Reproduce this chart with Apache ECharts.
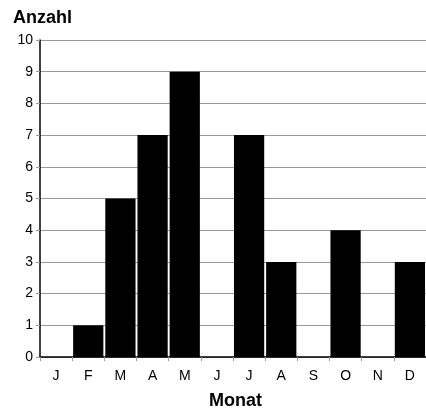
<!DOCTYPE html>
<html>
<head>
<meta charset="utf-8">
<script src="https://cdn.jsdelivr.net/npm/echarts@6/dist/echarts.min.js"></script>
<style>
html, body { margin: 0; padding: 0; background: #fff; }
#chart { width: 426px; height: 409px; }
</style>
</head>
<body>
<div id="chart"></div>
<script>
var months = ['J', 'F', 'M', 'A', 'M', 'J', 'J', 'A', 'S', 'O', 'N', 'D'];
var counts = [0, 1, 5, 7, 9, 0, 7, 3, 0, 4, 0, 3];
var yTicks = [0, 1, 2, 3, 4, 5, 6, 7, 8, 9, 10];

var myChart = echarts.init(document.getElementById('chart'));

var font = 'Liberation Sans, Arial, sans-serif';

var option = {
	animation: false,
	grid: { left: 40, right: -5, top: 40, bottom: 52 },
	title: [{
		text: 'Anzahl',
		left: 8, top: 4,
		textStyle: { fontFamily: font, fontSize: 18, fontWeight: 'bold', color: '#000' }
	}, {
		text: 'Monat',
		left: 204, top: 387,
		textStyle: { fontFamily: font, fontSize: 18, fontWeight: 'bold', color: '#000' }
	}],
	xAxis: {
		type: 'category',
		data: months,
		axisLine: { lineStyle: { color: '#000', width: 1.5 } },
		axisTick: { show: true, length: 4, lineStyle: { color: '#999' } },
		axisLabel: { fontFamily: font, fontSize: 14, color: '#000', margin: 12 }
	},
	yAxis: {
		type: 'value',
		min: yTicks[0],
		max: yTicks[yTicks.length - 1],
		interval: 1,
		axisLine: { show: true, lineStyle: { color: '#000', width: 1.5 } },
		axisTick: { show: true, length: 4, lineStyle: { color: '#999' } },
		axisLabel: { fontFamily: font, fontSize: 14, color: '#000', margin: 7 },
		splitLine: { lineStyle: { color: '#999', width: 1 } }
	},
	series: [{
		type: 'bar',
		data: counts,
		barCategoryGap: '6%',
		itemStyle: { color: '#000' }
	}]
};

myChart.setOption(option);
</script>
</body>
</html>
